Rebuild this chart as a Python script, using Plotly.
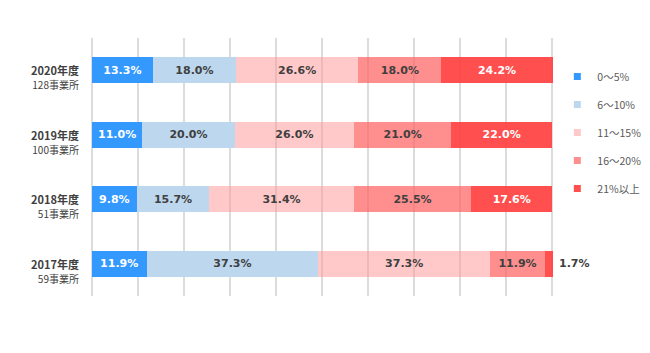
import plotly.graph_objects as go

years = ["2020年度", "2019年度", "2018年度", "2017年度"]
counts = ["128事業所", "100事業所", "51事業所", "59事業所"]
series_names = ["0～5%", "6～10%", "11～15%", "16～20%", "21%以上"]
values = {
    "0～5%":   [13.3, 11.0, 9.8, 11.9],
    "6～10%":  [18.0, 20.0, 15.7, 37.3],
    "11～15%": [26.6, 26.0, 31.4, 37.3],
    "16～20%": [18.0, 21.0, 25.5, 11.9],
    "21%以上": [24.2, 22.0, 17.6, 1.7],
}
colors = ["#3399FF", "#BDD7EE", "rgba(255,147,147,0.5)", "rgba(255,94,94,0.7)", "rgba(255,60,60,0.9)"]
legend_colors = ["#3399FF", "#BDD7EE", "#FFC9C9", "#FF8E8E", "#FF4F4F"]
text_colors = ["white", "#404040", "#404040", "#404040", "white"]

FONT = "DejaVu Sans, Noto Sans CJK JP, sans-serif"
JP = "Noto Sans CJK JP, sans-serif"

fig = go.Figure()
for i, name in enumerate(series_names):
    vals = values[name]
    fig.add_trace(go.Bar(
        y=years, x=vals, orientation="h", name=name,
        marker=dict(color=colors[i], line=dict(width=0)),
        text=[f"{v:.1f}%" if v >= 5 else "" for v in vals],
        textposition="inside",
        insidetextanchor="middle",
        insidetextfont=dict(family=FONT, size=11, color=text_colors[i], weight="bold"),
        constraintext="none",
        cliponaxis=False,
        showlegend=False,
        hoverinfo="skip",
    ))
    fig.add_trace(go.Scatter(
        x=[None], y=[None], mode="markers", name=name,
        marker=dict(symbol="square", size=7, color=legend_colors[i]),
        legendgroup=name, showlegend=True,
    ))

# small segment labels placed outside the bar end
last = series_names[-1]
for j, y in enumerate(years):
    v = values[last][j]
    if v < 5:
        total = sum(values[n][j] for n in series_names)
        fig.add_annotation(
            x=total, y=y, xref="x", yref="y", xanchor="left", xshift=4,
            showarrow=False, text=f"<b>{v:.1f}%</b>",
            font=dict(family=FONT, size=11, color="#404040"),
        )

for y, c in zip(years, counts):
    fig.add_annotation(
        x=0, xref="paper", y=y, yref="y", xanchor="right", yanchor="middle",
        xshift=-8, yshift=-7, align="right", showarrow=False,
        text=f"<b>{y}</b><br><span style='font-size:10px'>{c}</span>",
        font=dict(family=JP, size=11, color="#404040"),
    )

fig.update_layout(
    width=650, height=353,
    margin=dict(l=89, r=95, t=38, b=57, autoexpand=False),
    barmode="stack", bargap=0.6,
    plot_bgcolor="white", paper_bgcolor="white",
    xaxis=dict(range=[-0.6, 100.6], tick0=0, dtick=10, showgrid=True, gridcolor="#DCDCDC", gridwidth=1.5,
               zeroline=False, showticklabels=False, showline=False, fixedrange=True),
    yaxis=dict(categoryorder="array", categoryarray=years[::-1], showticklabels=False,
               showgrid=False, zeroline=False, showline=False),
    legend=dict(x=1.005, y=0.907, xanchor="left", yanchor="top", traceorder="grouped",
                tracegroupgap=9,
                font=dict(family=JP, size=10.5, color="#595959")),
    showlegend=True,
)

fig.write_html("out.html")
